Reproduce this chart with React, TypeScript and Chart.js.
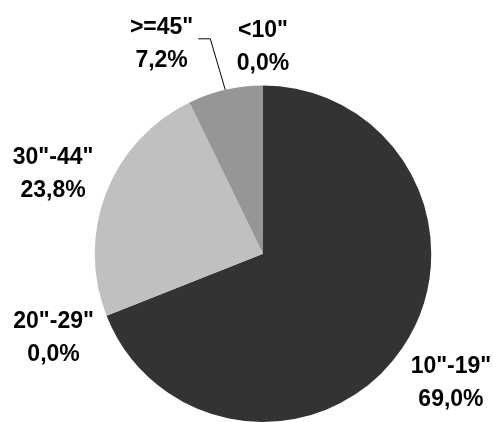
import React, { useEffect, useRef } from "react";
import { Chart, registerables } from "chart.js";

Chart.register(...registerables);

// Screen size buckets and their share of the total (percent)
const categories = ['<10"', '10"-19"', '20"-29"', '30"-44"', '>=45"'];
const shares = [0.0, 69.0, 0.0, 23.8, 7.2];
const sliceColors = ["#7f7f7f", "#333333", "#a6a6a6", "#c0c0c0", "#969696"];

const formatPercent = (v: number) => v.toFixed(1).replace(".", ",") + "%";

// Placement of each two-line label relative to its slice
type LabelPlacement =
  | { radial: number }
  | { leader: { elbowDx: number; elbowDy: number; tail: number; gap: number } };

const labelPlacement: LabelPlacement[] = [
  { radial: 40 },
  { radial: 59 },
  { radial: 57 },
  { radial: 57 },
  { leader: { elbowDx: -15, elbowDy: -51, tail: 12, gap: 5 } },
];

const FONT_SIZE = 23;
const LINE_GAP = 33;
const FONT = `bold ${FONT_SIZE}px "Liberation Sans", Arial, sans-serif`;

const sliceLabels = {
  id: "sliceLabels",
  afterDraw(chart: Chart) {
    const ctx = chart.ctx;
    const meta = chart.getDatasetMeta(0);
    const values = chart.data.datasets[0].data as number[];
    const names = chart.data.labels as string[];
    ctx.save();
    ctx.font = FONT;
    ctx.fillStyle = "#000000";
    ctx.textAlign = "center";
    ctx.textBaseline = "alphabetic";
    const capH = FONT_SIZE * 0.716;

    meta.data.forEach((el: any, i: number) => {
      const p = el.getProps(["x", "y", "startAngle", "endAngle", "outerRadius"], true);
      const mid = (p.startAngle + p.endAngle) / 2;
      const dx = Math.cos(mid);
      const dy = Math.sin(mid);
      const line1 = names[i];
      const line2 = formatPercent(values[i]);
      const place = labelPlacement[i];
      let cx: number;
      let cy: number;

      if ("radial" in place) {
        const d = p.outerRadius + place.radial;
        cx = p.x + dx * d;
        cy = p.y + dy * d;
      } else {
        const L = place.leader;
        const ex = p.x + dx * p.outerRadius;
        const ey = p.y + dy * p.outerRadius;
        const bx = ex + L.elbowDx;
        const by = ey + L.elbowDy;
        const tx = bx - L.tail;
        ctx.beginPath();
        ctx.strokeStyle = "#000000";
        ctx.lineWidth = 1;
        ctx.moveTo(ex, ey);
        ctx.lineTo(bx, by);
        ctx.lineTo(tx, by);
        ctx.stroke();
        const w = Math.max(ctx.measureText(line1).width, ctx.measureText(line2).width);
        cx = tx - L.gap - w / 2;
        cy = by + 3;
      }

      const base1 = cy - LINE_GAP / 2 + capH / 2;
      ctx.fillText(line1, cx, base1);
      ctx.fillText(line2, cx, base1 + LINE_GAP);
    });
    ctx.restore();
  },
};

export default function App() {
  const canvasRef = useRef<HTMLCanvasElement | null>(null);

  useEffect(() => {
    if (!canvasRef.current) return;
    const chart = new Chart(canvasRef.current, {
      type: "pie",
      data: {
        labels: categories,
        datasets: [
          {
            data: shares,
            backgroundColor: sliceColors,
            borderWidth: 0,
          },
        ],
      },
      options: {
        responsive: false,
        animation: false,
        devicePixelRatio: 1,
        layout: { padding: { top: 85.5, bottom: 0, left: 94.5, right: 63.5 } },
        plugins: {
          legend: { display: false },
          tooltip: { enabled: false },
        },
      },
      plugins: [sliceLabels],
    });
    return () => chart.destroy();
  }, []);

  return (
    <div
      style={{
        position: "fixed",
        left: 0,
        top: 0,
        width: 495,
        height: 422,
        background: "#ffffff",
      }}
    >
      <canvas ref={canvasRef} width={495} height={422} />
    </div>
  );
}
